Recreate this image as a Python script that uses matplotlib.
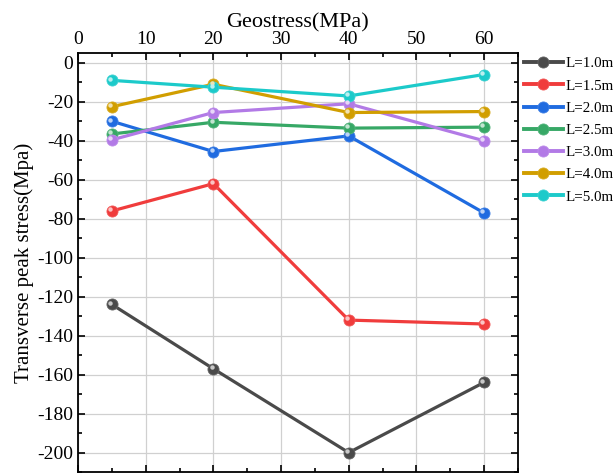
import matplotlib.pyplot as plt
import matplotlib.transforms as mtransforms
from matplotlib.lines import Line2D
from matplotlib.colors import to_rgb

plt.rcParams['font.family'] = ['Liberation Serif', 'DejaVu Serif']
plt.rcParams['axes.unicode_minus'] = False

# Geostress levels (MPa)
geostress = [5, 20, 40, 60]

# Transverse peak stress (MPa) for each length L
labels = ['L=1.0m', 'L=1.5m', 'L=2.0m', 'L=2.5m', 'L=3.0m', 'L=4.0m', 'L=5.0m']
stress_10 = [-124, -157, -200, -164]
stress_15 = [-76, -62, -132, -134]
stress_20 = [-30, -45.5, -37.5, -77]
stress_25 = [-36.5, -30.5, -33.5, -33]
stress_30 = [-39.5, -25.5, -21, -40]
stress_40 = [-22.5, -11, -25.5, -25]
stress_50 = [-9, -12.5, -17, -6]
series = [stress_10, stress_15, stress_20, stress_25, stress_30, stress_40, stress_50]
colors = ['#4a4a4a', '#f03c3c', '#1f6be0', '#37a866', '#b27ae6', '#d19e00', '#1ccaca']


def lighten(c, f):
    r, g, b = to_rgb(c)
    return (r + (1 - r) * f, g + (1 - g) * f, b + (1 - b) * f)


fig = plt.figure(figsize=(6.15, 4.74), dpi=100)
ax = fig.add_axes([0.127, 0.004, 0.715, 0.884])

# small shine on each sphere marker, shifted up-left
shine = mtransforms.offset_copy(ax.transData, fig=fig, x=-1.2, y=1.2, units='points')

for vals, c in zip(series, colors):
    ax.plot(geostress, vals, color=c, lw=2.3, marker='o', ms=8,
            mfc=c, mec=lighten(c, 0.15), mew=0.6, zorder=3)
    ax.plot(geostress, vals, ls='none', marker='o', ms=3.2,
            mfc=lighten(c, 0.7), mec='none', transform=shine, zorder=4)

ax.set_xlim(0, 65)
ax.set_ylim(-210, 5)
ax.set_xticks(range(0, 61, 10))
ax.set_yticks(range(-200, 1, 20))
ax.set_xticks(range(0, 66, 5), minor=True)
ax.set_yticks(range(-210, 6, 10), minor=True)

ax.grid(True, which='major', color='#d0d0d0', lw=0.9, zorder=0)
ax.set_axisbelow(True)

ax.xaxis.tick_top()
ax.xaxis.set_label_position('top')
ax.tick_params(which='both', direction='in', top=True, bottom=True, left=True, right=True,
               labelsize=14, width=1.2)
ax.tick_params(which='major', length=5)
ax.tick_params(which='minor', length=3)
for s in ax.spines.values():
    s.set_linewidth(1.3)

ax.set_xlabel('Geostress(MPa)', fontsize=16, labelpad=3)
ax.set_ylabel('Transverse peak stress(Mpa)', fontsize=15, labelpad=2)

handles = []
for lab, c in zip(labels, colors):
    handles.append(Line2D([], [], color=c, lw=2.8, marker='o', ms=8, mfc=c,
                          mec=lighten(c, 0.15), mew=0.6, label=lab))
ax.legend(handles=handles, loc='upper left', bbox_to_anchor=(1.0, 1.005), frameon=False,
          fontsize=10.8, handlelength=2.6, handletextpad=0.15, labelspacing=0.58,
          borderaxespad=0)

fig.savefig('out.png', dpi=100)
